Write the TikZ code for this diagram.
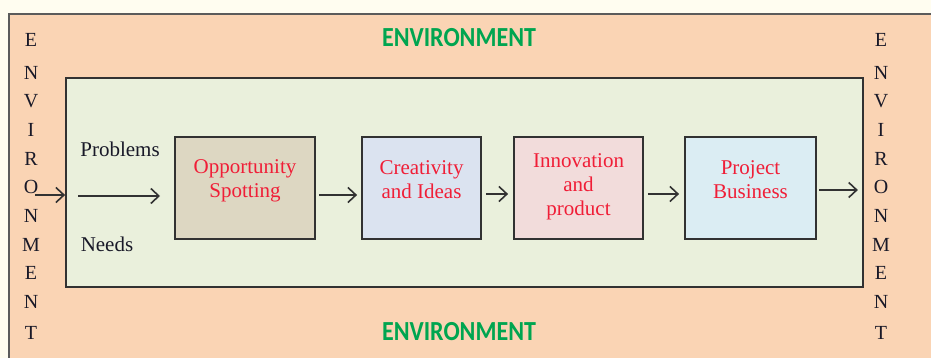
\documentclass[tikz,border=0pt]{standalone}
\usepackage{fontspec}
\newfontfamily\carl{Carlito}
\newfontfamily\pal{Liberation Serif}
\usetikzlibrary{arrows.meta}
\definecolor{bgc}{RGB}{255,253,240}
\definecolor{peach}{RGB}{250,212,180}
\definecolor{innerc}{RGB}{234,240,220}
\definecolor{oppc}{RGB}{221,215,194}
\definecolor{crec}{RGB}{219,227,240}
\definecolor{innc}{RGB}{242,220,219}
\definecolor{proc}{RGB}{219,237,243}
\definecolor{redt}{RGB}{240,30,55}
\definecolor{greent}{RGB}{0,165,80}
\definecolor{darkt}{RGB}{25,25,40}
\definecolor{linec}{RGB}{50,50,50}
\begin{document}
\begin{tikzpicture}[x=1pt,y=-1pt,
  bx/.style={draw=linec, line width=1.8pt, minimum height=102pt, inner sep=0pt},
  boxtxt/.style={text=redt, align=center, font=\pal\fontsize{21}{24}\selectfont},
  dtxt/.style={text=darkt, font=\pal\fontsize{21}{22}\selectfont},
  envt/.style={text=greent, font=\carl\bfseries\fontsize{24}{24}\selectfont},
  arr/.style={draw=linec, line width=1.6pt, -{Straight Barb[length=8pt,width=15pt,line width=1.6pt]}},
  lett/.style={text=darkt, font=\pal\fontsize{20}{20}\selectfont, inner sep=0pt}]
\useasboundingbox (0,0) rectangle (931,358);
\clip (0,0) rectangle (931,358);
\fill[bgc] (0,0) rectangle (931,358);
\draw[draw=linec!80, line width=1.8pt, fill=peach] (9,14) rectangle (945,372);
\node[draw=linec, line width=1.8pt, fill=innerc, minimum width=797pt, minimum height=209pt, inner sep=0pt] (inner) at (464.5,182.5) {};
\node[bx, fill=oppc, minimum width=140pt] (opp) at (245,188) {};
\node[bx, fill=crec, minimum width=119pt] (cre) at (421.5,188) {};
\node[bx, fill=innc, minimum width=129pt] (inn) at (578.5,188) {};
\node[bx, fill=proc, minimum width=131pt] (pro) at (750.5,188) {};
\node[boxtxt] (oppt) at (245,181) {Opportunity\\Spotting};
\node[boxtxt] (cret) at (421.5,180) {Creativity\\and Ideas};
\node[boxtxt] (innt) at (578.5,187) {Innovation\\and\\product};
\node[boxtxt] (prot) at (750.5,180) {Project\\Business};
\node[dtxt] (prob) at (120,149) {Problems};
\node[dtxt] (need) at (107,244) {Needs};
\node[envt] (envtop) at (459,38) {\scalebox{1}[1.15]{ENVIRONMENT}};
\node[envt] (envbot) at (459,332) {\scalebox{1}[1.15]{ENVIRONMENT}};
\foreach \l/\y [count=\i] in {E/40,N/73,V/101,I/130,R/159,O/187,N/216,M/245,E/273,N/302,T/333}{
  \node[lett] (L\i) at (31,\y) {\l};
  \node[lett] (R\i) at (881,\y) {\l};
}
\coordinate (in0) at (35,195);
\coordinate (in1) at (78,196);
\coordinate (in2) at (160,196);
\coordinate (out1) at (819,190);
\draw[arr] (in0) -- (in0 -| inner.west);
\draw[arr] (in1) -- (in2);
\draw[arr, shorten <=3pt, shorten >=4pt] ([yshift=-7pt]opp.east) -- ([yshift=-7pt]cre.west);
\draw[arr, shorten <=4pt, shorten >=5pt] ([yshift=-6pt]cre.east) -- ([yshift=-6pt]inn.west);
\draw[arr, shorten <=4pt, shorten >=5pt] ([yshift=-6pt]inn.east) -- ([yshift=-6pt]pro.west);
\draw[arr, shorten >=6pt] (out1) -- (out1 -| inner.east);
\end{tikzpicture}
\end{document}
